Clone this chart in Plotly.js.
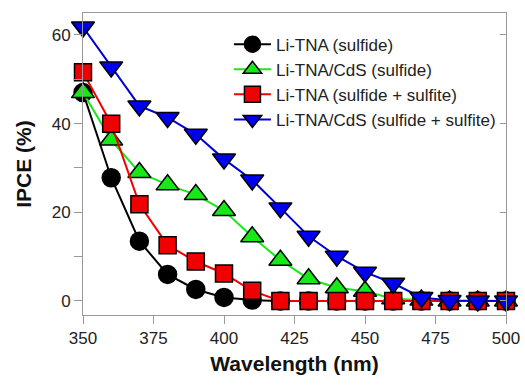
<!DOCTYPE html>
<html>
<head>
<meta charset="utf-8">
<script src="https://cdn.plot.ly/plotly-3.0.1.min.js"></script>
<style>html,body{margin:0;padding:0;background:#fff;}#chart{width:525px;height:385px;}</style>
</head>
<body>
<div id="chart"></div>
<script>
const wavelength = [350, 360, 370, 380, 390, 400, 410, 420, 430, 440, 450, 460, 470, 480, 490, 500];
const liTnaSulfide = [47, 27.8, 13.5, 6, 2.6, 0.8, 0.2, 0, 0, 0, 0, 0, 0, 0, 0, 0];
const liTnaCdsSulfide = [47, 36.3, 29, 26.2, 24, 20.4, 14.5, 9.2, 5, 3, 2.2, 0.5, 0.2, 0, 0, 0];
const liTnaSulfideSulfite = [51.6, 40, 21.8, 12.6, 8.9, 6.2, 2.3, 0, 0, 0, 0, 0, 0, 0, 0, 0];
const liTnaCdsSulfideSulfite = [61.8, 52.8, 44, 41.4, 37.6, 32, 27.3, 21, 14.6, 10.1, 6.5, 4, 0.8, 0.1, 0, 0];
const seriesNames = ['Li-TNA (sulfide)', 'Li-TNA/CdS (sulfide)', 'Li-TNA (sulfide + sulfite)', 'Li-TNA/CdS (sulfide + sulfite)'];
const xTickVals = [350, 375, 400, 425, 450, 475, 500];
const yTickVals = [0, 10, 20, 30, 40, 50, 60];
const yTickText = ['0', '', '20', '', '40', '', '60'];

const outline = {color: '#000', width: 1.5};
const traces = [
  {x: wavelength, y: liTnaSulfide, name: seriesNames[0], mode: 'lines+markers', cliponaxis: false,
   line: {color: '#000', width: 2}, marker: {symbol: 'circle', size: 18, color: '#000', line: outline}},
  {x: wavelength, y: liTnaCdsSulfide, name: seriesNames[1], mode: 'lines+markers', cliponaxis: false,
   line: {color: '#18e818', width: 2}, marker: {symbol: 'triangle-up', size: 20, color: '#18e818', line: outline}},
  {x: wavelength, y: liTnaSulfideSulfite, name: seriesNames[2], mode: 'lines+markers', cliponaxis: false,
   line: {color: '#f00000', width: 2}, marker: {symbol: 'square', size: 17, color: '#f00000', line: outline}},
  {x: wavelength, y: liTnaCdsSulfideSulfite, name: seriesNames[3], mode: 'lines+markers', cliponaxis: false,
   line: {color: '#0000d0', width: 2}, marker: {symbol: 'triangle-down', size: 20, color: '#0000f0', line: outline}},
  {x: [null], y: [null], yaxis: 'y2', showlegend: false, hoverinfo: 'skip', mode: 'markers'}
];

const fontFam = '"Liberation Sans", Arial, sans-serif';
const layout = {
  width: 525, height: 385,
  margin: {l: 83, r: 19, t: 13, b: 70, pad: 0},
  paper_bgcolor: '#fff', plot_bgcolor: '#fff',
  font: {family: fontFam, color: '#222'},
  showlegend: true,
  legend: {x: 0.345, y: 0.955, xanchor: 'left', yanchor: 'top', bgcolor: 'rgba(0,0,0,0)',
    borderwidth: 0, font: {size: 17, family: fontFam, color: '#222'}, itemwidth: 37, tracegroupgap: 0},
  xaxis: {range: [350, 500], tickvals: xTickVals, ticks: 'outside', ticklen: 8, tickwidth: 1, tickcolor: '#999',
    showline: true, linecolor: '#999', linewidth: 1, mirror: true, showgrid: false, zeroline: false,
    tickfont: {size: 17, family: fontFam, color: '#222'},
    title: {text: '<b>Wavelength (nm)</b>', font: {size: 21, family: fontFam, color: '#111'}, standoff: 8}},
  yaxis: {range: [-3.16, 64.96], tickvals: yTickVals, ticktext: yTickText, ticks: 'outside', ticklen: 8, tickwidth: 1,
    tickcolor: '#999', showline: true, linecolor: '#999', linewidth: 1, mirror: true, showgrid: false, zeroline: false,
    tickfont: {size: 17, family: fontFam, color: '#222'},
    title: {text: '<b>IPCE (%)</b>', font: {size: 21, family: fontFam, color: '#111'}, standoff: 14}},
  yaxis2: {range: [-3.16, 64.96], overlaying: 'y', side: 'right', tickvals: [0, 20, 40, 60], ticks: 'inside', ticklen: 6,
    tickcolor: '#999', showticklabels: false, showline: false, showgrid: false, zeroline: false}
};

Plotly.newPlot('chart', traces, layout, {staticPlot: true, displayModeBar: false});
</script>
</body>
</html>
